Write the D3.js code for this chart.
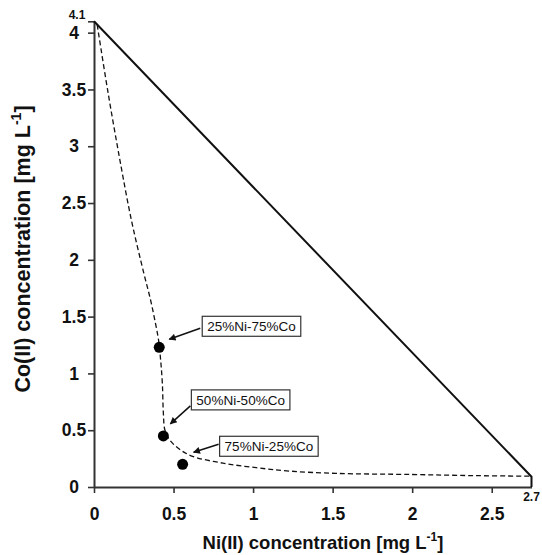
<!DOCTYPE html>
<html>
<head>
<meta charset="utf-8">
<script src="https://cdn.jsdelivr.net/npm/d3@7"></script>
<style>
  html, body { margin: 0; padding: 0; background: #fff; }
  svg { display: block; font-family: "Liberation Sans", Arial, sans-serif; }
</style>
</head>
<body>
<svg id="chart" width="542" height="555"></svg>
<script>
// ---- data ----
const xTicks = [0, 0.5, 1, 1.5, 2, 2.5];
const yTicks = [0, 0.5, 1, 1.5, 2, 2.5, 3, 3.5, 4];
const xEndTick = { value: 2.75, label: "2.7" };
const yEndTick = { value: 4.1, label: "4.1" };

// solid boundary (single-metal limits)
const boundaryNi = [0, 2.75, 2.75];
const boundaryCo = [4.1, 0.09, 0];

// dashed curve
const curveNi = [0.02, 0.085, 0.16, 0.235, 0.31, 0.355, 0.385, 0.405, 0.42, 0.43, 0.436, 0.446, 0.478, 0.54, 0.62, 0.81, 1.02, 1.23, 1.52, 2.0, 2.4, 2.75];
const curveCo = [4.07, 3.5, 2.9, 2.35, 1.9, 1.65, 1.45, 1.3, 1.1, 0.9, 0.65, 0.50, 0.41, 0.33, 0.27, 0.21, 0.17, 0.14, 0.12, 0.11, 0.10, 0.095];

// mixture points
const mixLabels = ["25%Ni-75%Co", "50%Ni-50%Co", "75%Ni-25%Co"];
const mixNi = [0.41, 0.436, 0.557];
const mixCo = [1.23, 0.45, 0.20];

// ---- layout (pixel offsets for annotations, relative to points) ----
const annLayout = [
  { boxDx: 43, boxDy: -31, a1: [41, -19], a2: [10, -8] },
  { boxDx: 28, boxDy: -46, a1: [27, -30], a2: [7, -12] },
  { boxDx: 37, boxDy: -28, a1: [36, -20], a2: [11, -12] }
];

const svg = d3.select("#chart");
const x = d3.scaleLinear().domain([0, 2.75]).range([94, 531.5]);
const y = d3.scaleLinear().domain([0, 4.1]).range([487, 21.3]);

const axisColor = "#333";
const FONT = "Liberation Sans, Arial, sans-serif";

// arrow marker
svg.append("defs").append("marker")
  .attr("id", "arrow").attr("viewBox", "0 0 10 10")
  .attr("refX", 9).attr("refY", 5)
  .attr("markerWidth", 9).attr("markerHeight", 7)
  .attr("markerUnits", "userSpaceOnUse")
  .attr("orient", "auto")
  .append("path").attr("d", "M0,0 L10,5 L0,10 z").attr("fill", "#111");

// X axis
const gx = svg.append("g").attr("transform", `translate(0,${y(0)})`)
  .call(d3.axisBottom(x).tickValues(xTicks).tickSize(6).tickSizeOuter(0).tickPadding(15)
    .tickFormat(d => d));
gx.select(".domain").attr("stroke", axisColor).attr("stroke-width", 2);
gx.selectAll(".tick line").attr("stroke", axisColor).attr("stroke-width", 1.6);
gx.selectAll(".tick text").attr("font-size", 17.5).attr("font-weight", "bold")
  .attr("fill", "#111").attr("font-family", FONT);

// Y axis
const gy = svg.append("g").attr("transform", `translate(${x(0)},0)`)
  .call(d3.axisLeft(y).tickValues(yTicks.concat([yEndTick.value])).tickSize(6).tickSizeOuter(0)
    .tickFormat(d => d));
gy.select(".domain").attr("stroke", axisColor).attr("stroke-width", 2);
gy.selectAll(".tick line").attr("stroke", axisColor).attr("stroke-width", 1.6);
gy.selectAll(".tick text").attr("font-size", 17.5).attr("font-weight", "bold")
  .attr("fill", "#111").attr("font-family", FONT)
  .attr("text-anchor", "middle").attr("x", -20);
// small end label 4.1
gy.selectAll(".tick").filter(d => d === yEndTick.value).select("text")
  .text(yEndTick.label).attr("font-size", 12).attr("x", -17).attr("dy", "-0.2em");

// X end label 2.7
svg.append("text").attr("x", x(xEndTick.value)).attr("y", y(0) + 14)
  .attr("text-anchor", "middle").attr("font-size", 12).attr("font-weight", "bold")
  .attr("fill", "#111").text(xEndTick.label);

// Axis titles
const xt = svg.append("text").attr("x", 323).attr("y", 549).attr("text-anchor", "middle")
  .attr("font-size", 18.5).attr("font-weight", "bold").attr("fill", "#111");
xt.append("tspan").text("Ni(II) concentration [mg L");
xt.append("tspan").text("-1").attr("font-size", 12).attr("dy", -8);
xt.append("tspan").text("]").attr("dy", 8);

const yt = svg.append("text").attr("transform", "translate(30,249) rotate(-90)")
  .attr("text-anchor", "middle")
  .attr("font-size", 21.5).attr("font-weight", "bold").attr("fill", "#111");
yt.append("tspan").text("Co(II) concentration [mg L");
yt.append("tspan").text("-1").attr("font-size", 14).attr("dy", -9);
yt.append("tspan").text("]").attr("dy", 9);

// solid boundary
const line = d3.line().x(d => x(d[0])).y(d => y(d[1]));
svg.append("path")
  .datum(boundaryNi.map((v, i) => [v, boundaryCo[i]]))
  .attr("d", line).attr("fill", "none").attr("stroke", "#111").attr("stroke-width", 2);

// dashed curve
const curveLine = d3.line().x(d => x(d[0])).y(d => y(d[1])).curve(d3.curveCatmullRom.alpha(0.5));
svg.append("path")
  .datum(curveNi.map((v, i) => [v, curveCo[i]]))
  .attr("d", curveLine).attr("fill", "none").attr("stroke", "#111")
  .attr("stroke-width", 1.3).attr("stroke-dasharray", "5,3");

// points
svg.selectAll("circle.mix").data(mixNi).enter().append("circle")
  .attr("class", "mix")
  .attr("cx", d => x(d)).attr("cy", (d, i) => y(mixCo[i]))
  .attr("r", 5.5).attr("fill", "#000");

// annotations
mixLabels.forEach((lab, i) => {
  const px = x(mixNi[i]), py = y(mixCo[i]);
  const L = annLayout[i];
  const g = svg.append("g");
  const t = g.append("text").attr("x", px + L.boxDx + 5).attr("y", py + L.boxDy + 15)
    .attr("font-size", 13.5).attr("fill", "#111").text(lab);
  const bb = t.node().getBBox();
  g.insert("rect", "text")
    .attr("x", px + L.boxDx).attr("y", py + L.boxDy)
    .attr("width", bb.width + 10).attr("height", 20)
    .attr("fill", "#fff").attr("stroke", "#333").attr("stroke-width", 1.2);
  svg.append("line")
    .attr("x1", px + L.a1[0]).attr("y1", py + L.a1[1])
    .attr("x2", px + L.a2[0]).attr("y2", py + L.a2[1])
    .attr("stroke", "#111").attr("stroke-width", 1.5)
    .attr("marker-end", "url(#arrow)");
});
</script>
</body>
</html>
